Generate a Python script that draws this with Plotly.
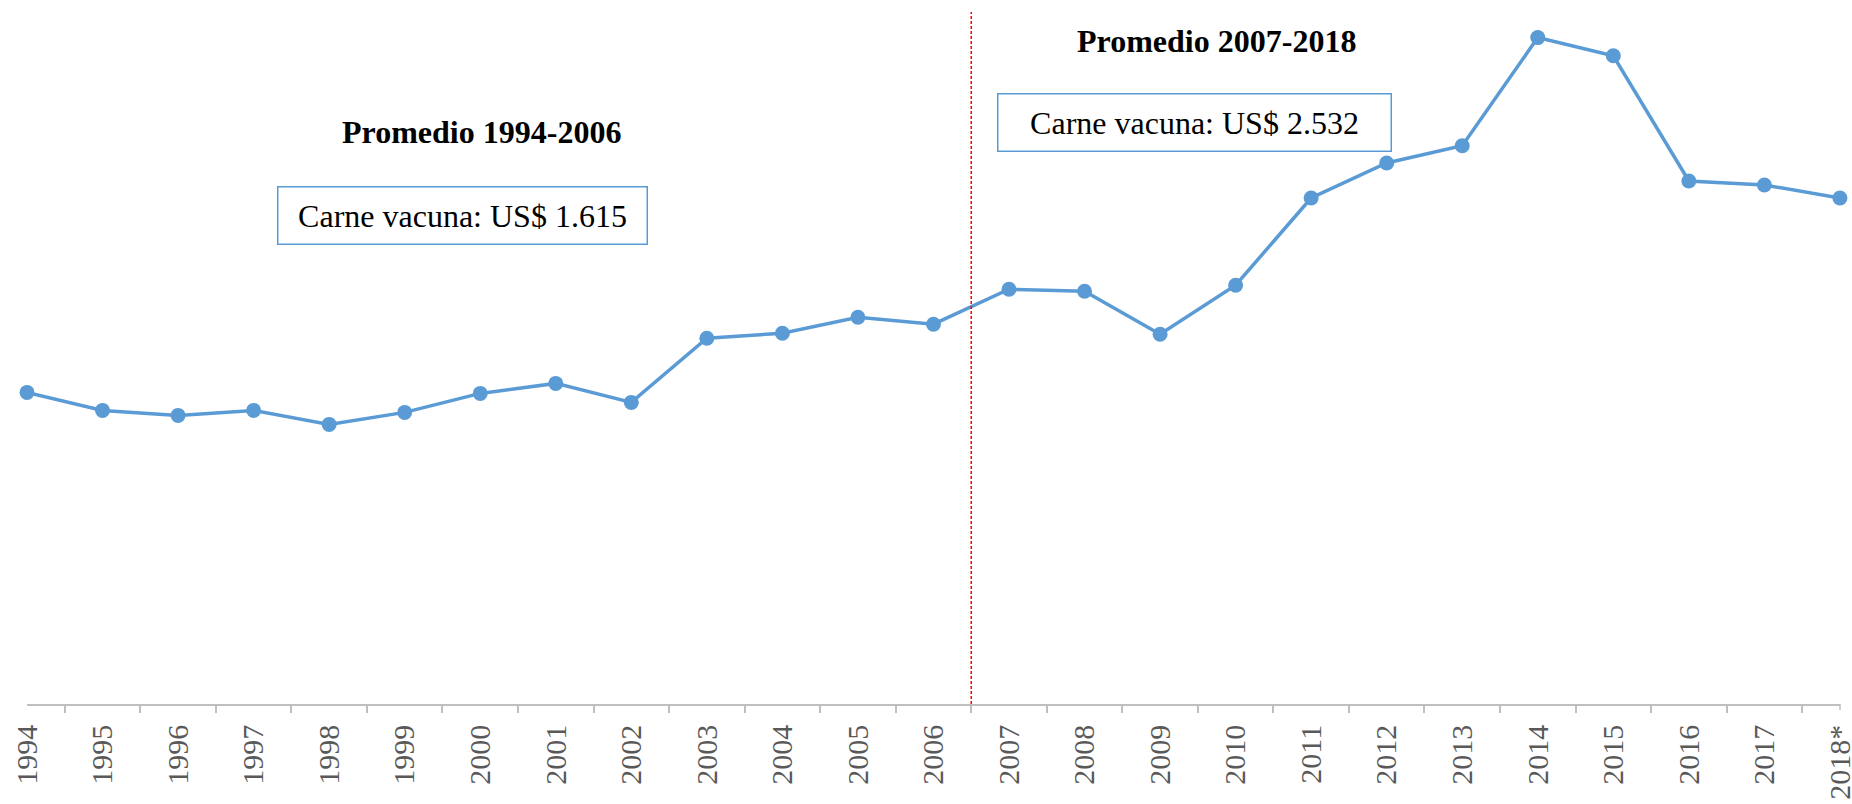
import plotly.graph_objects as go

# Datos (US$ por tonelada aprox.)
years = ["1994", "1995", "1996", "1997", "1998", "1999", "2000", "2001", "2002",
         "2003", "2004", "2005", "2006", "2007", "2008", "2009", "2010", "2011",
         "2012", "2013", "2014", "2015", "2016", "2017", "2018*"]
beef = [1558, 1468, 1443, 1468, 1398, 1458, 1553, 1603, 1508,
        1829, 1854, 1934, 1899, 2074, 2064, 1849, 2094, 2530,
        2705, 2791, 3332, 3241, 2615, 2595, 2530]
avg_labels = ["Promedio 1994-2006", "Promedio 2007-2018"]
avg_values = ["Carne vacuna: US$ 1.615", "Carne vacuna: US$ 2.532"]

LINE_COLOR = '#5B9BD5'
AXIS_COLOR = '#BFBFBF'
FONT = "Liberation Serif, Times New Roman, serif"

x = list(range(len(years)))
split = years.index("2007") - 0.5

fig = go.Figure()
fig.add_trace(go.Scatter(
    x=x, y=beef, mode='lines+markers',
    line=dict(color=LINE_COLOR, width=3.5),
    marker=dict(color=LINE_COLOR, size=15),
    cliponaxis=False, showlegend=False,
))

# línea de corte entre períodos
fig.add_shape(type='line', x0=split, x1=split, y0=0, y1=3460,
              line=dict(color='#FF0000', width=1.5, dash='3px,2px'))

# marca final del eje
fig.add_shape(type='line', xref='paper', yref='paper', x0=1, x1=1, y0=0, y1=-0.0087,
              line=dict(color=AXIS_COLOR, width=1.5))

# títulos de promedio
fig.add_annotation(x=6.02, y=2860, text="<b>%s</b>" % avg_labels[0], showarrow=False,
                   font=dict(family=FONT, size=32, color='black'))
fig.add_annotation(x=15.75, y=3315, text="<b>%s</b>" % avg_labels[1], showarrow=False,
                   font=dict(family=FONT, size=32, color='black'))

# cajas con valores
fig.add_annotation(x=5.76, y=2445, text=avg_values[0], showarrow=False,
                   font=dict(family=FONT, size=32, color='black'),
                   bordercolor=LINE_COLOR, borderwidth=1.5, borderpad=4,
                   width=360, height=48, bgcolor='white')
fig.add_annotation(x=15.46, y=2907, text=avg_values[1], showarrow=False,
                   font=dict(family=FONT, size=32, color='black'),
                   bordercolor=LINE_COLOR, borderwidth=1.5, borderpad=4,
                   width=384, height=48, bgcolor='white')

fig.update_xaxes(
    range=[0, len(years) - 1 + 0.001],
    tickmode='array', tickvals=x, ticktext=years,
    tickangle=-90, ticks='', ticklabelstandoff=7, ticklabeloverflow='allow',
    tickfont=dict(family=FONT, size=30, color='#595959'),
    showline=True, linecolor=AXIS_COLOR, linewidth=1.5,
    showgrid=False, zeroline=False, automargin=False,
    minor=dict(tickmode='array', tickvals=[i + 0.5 for i in x[:-1]],
               ticks='outside', ticklen=7, tickcolor=AXIS_COLOR, tickwidth=1.5,
               showgrid=False),
)
fig.update_yaxes(range=[0, 3500], visible=False, showgrid=False,
                 zeroline=False, automargin=False)

fig.update_layout(
    width=1852, height=804,
    margin=dict(l=27, r=12, t=4, b=100),
    plot_bgcolor='white', paper_bgcolor='white',
    font=dict(family=FONT),
)

# quitar el margen del body para que la figura ocupe la ventana exacta
fig.write_html("out.html", config={'displayModeBar': False},
               post_script="document.body.style.margin='0';")
